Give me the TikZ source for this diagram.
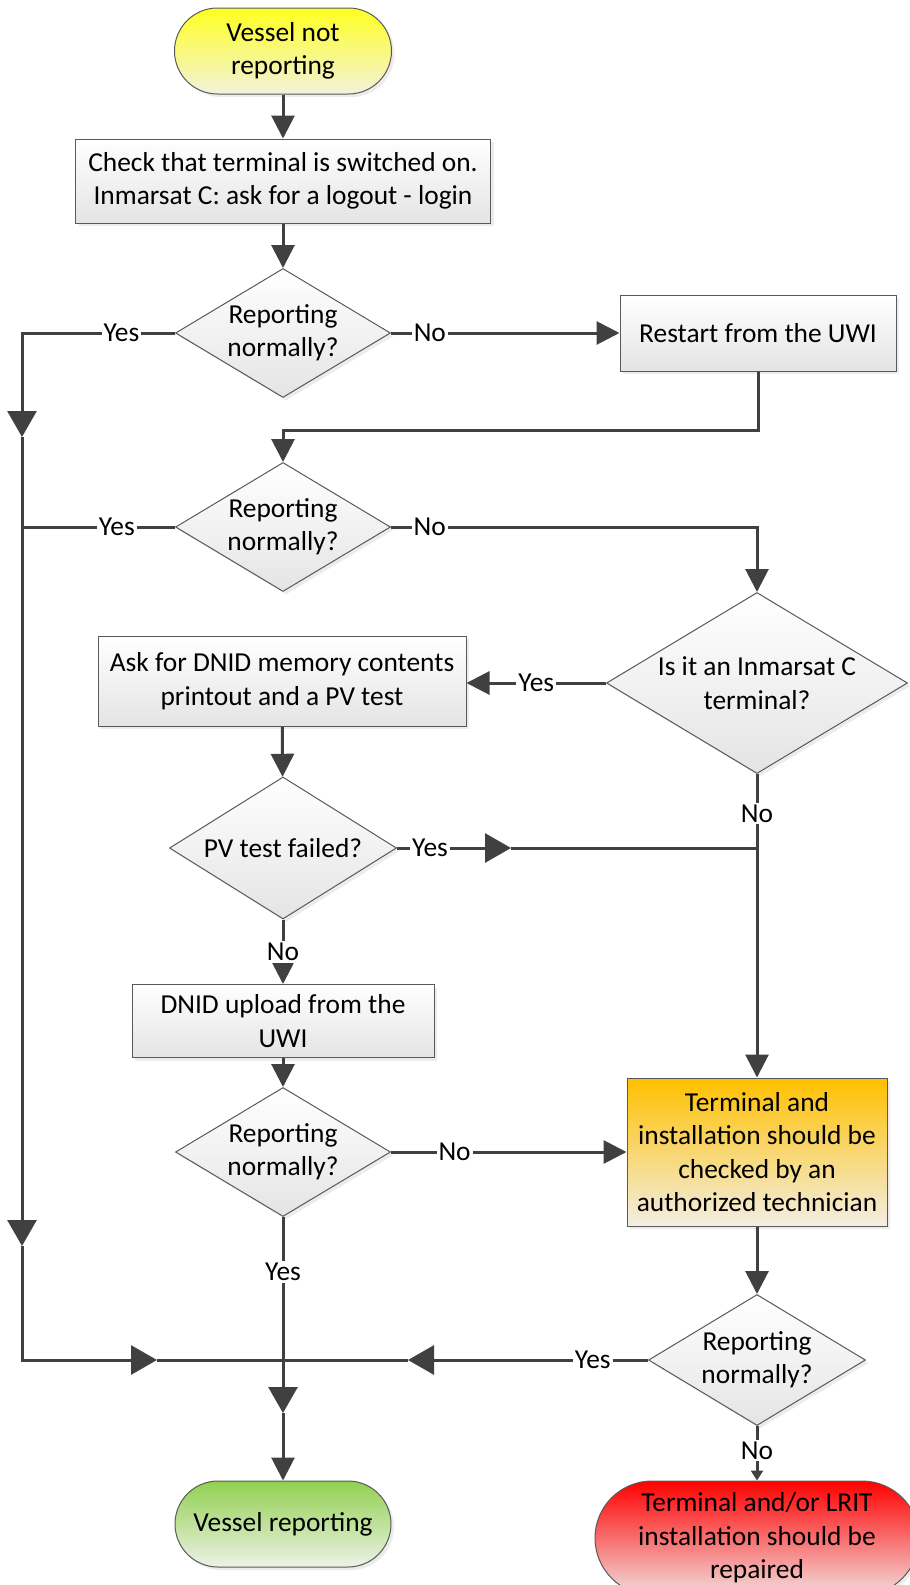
\documentclass[tikz,border=0pt]{standalone}
\usepackage{fontspec}
\setmainfont{Carlito}
\usetikzlibrary{arrows.meta,shapes.geometric,shadows}

\definecolor{linegray}{HTML}{404040}
\definecolor{edgegray}{HTML}{595959}
\definecolor{boxgray}{HTML}{E4E4E4}
\definecolor{yellowtop}{HTML}{FFFF20}
\definecolor{yellowbot}{HTML}{F2F2DC}
\definecolor{ambertop}{HTML}{FFC000}
\definecolor{amberbot}{HTML}{F2EEE4}
\definecolor{greentop}{HTML}{92D050}
\definecolor{greenbot}{HTML}{ECF2E6}
\definecolor{redtop}{HTML}{FF0000}
\definecolor{redbot}{HTML}{F2DCDC}

\begin{document}
\begin{tikzpicture}[x=0.5pt, y=-0.5pt, >={Triangle[length=11.5pt,width=11.5pt]},
	font=\fontsize{13.7}{16.7}\selectfont,
	base/.style={draw=edgegray, line width=0.5pt, align=center, inner sep=2pt,
		drop shadow={shadow xshift=1.5pt, shadow yshift=-1.5pt, fill=black!15}},
	box/.style={base, rectangle, top color=white, bottom color=boxgray},
	dec/.style={base, diamond, top color=white, bottom color=boxgray, inner sep=0pt},
	term/.style={base, rectangle, rounded corners=21.5pt},
	flow/.style={draw=linegray, line width=1.5pt},
	bigtip/.style={-{Triangle[length=13pt,width=14.5pt]}},
	lbl/.style={fill=white, inner sep=1pt, text=black}]
			\path[use as bounding box] (0,0) rectangle (910,1585);
			\clip (0,0) rectangle (910,1585);

			\node[term, top color=yellowtop, bottom color=yellowbot, minimum width=108.5pt, minimum height=43pt] (start) at (283,51) {Vessel not\\reporting};
			\node[box, minimum width=207.5pt, minimum height=42pt] (check) at (283,181) {Check that terminal is switched on.\\Inmarsat C: ask for a logout - login};
			\node[dec, aspect=1.67, minimum width=107.5pt, minimum height=64.5pt] (rep1) at (283,333) {Reporting\\normally?};
			\node[box, minimum width=138pt, minimum height=38pt] (restart) at (758,333) {Restart from the UWI};
			\node[dec, aspect=1.67, minimum width=107.5pt, minimum height=64.5pt] (rep2) at (283,527) {Reporting\\normally?};
			\node[dec, aspect=1.66, minimum width=150.5pt, minimum height=90.5pt] (inm) at (757,683) {Is it an Inmarsat C\\terminal?};
			\node[box, minimum width=184pt, minimum height=45pt] (dnid) at (282,681) {Ask for DNID memory contents\\printout and a PV test};
			\node[dec, aspect=1.6, minimum width=113.5pt, minimum height=71pt] (pv) at (283,848) {PV test failed?};
			\node[box, minimum width=151pt, minimum height=36.5pt] (upload) at (283,1021) {DNID upload from the\\UWI};
			\node[dec, aspect=1.67, minimum width=107.5pt, minimum height=64.5pt] (rep3) at (283,1152) {Reporting\\normally?};
			\node[box, top color=ambertop, bottom color=amberbot, minimum width=130pt, minimum height=74pt] (tech) at (757,1152) {Terminal and\\installation should be\\checked by an\\authorized technician};
			\node[dec, aspect=1.66, minimum width=108.5pt, minimum height=65.5pt] (rep4) at (757,1360) {Reporting\\normally?};
			\node[term, top color=greentop, bottom color=greenbot, minimum width=108pt, minimum height=43pt] (ok) at (283,1524) {Vessel reporting};
			\node[term, rounded corners=28.5pt, top color=redtop, bottom color=redbot, minimum width=162pt, minimum height=57pt] (repair) at (757,1538) {Terminal and/or LRIT\\installation should be\\repaired};

			\coordinate (bend) at (283,430);
			\coordinate (ltop) at (22,333);
			\coordinate (la) at (22,437);
			\coordinate (lb) at (22,1246);
			\coordinate (lbot) at (22,1360);
			\coordinate (ra) at (157,1360);
			\coordinate (ya) at (408,1360);
			\coordinate (va) at (283,1413);
			\coordinate (pvtip) at (511,848);

			\draw[flow, ->] (start) -- (check);
			\draw[flow, ->] (check) -- (rep1);
			\draw[flow, ->] (rep1.east) -- node[lbl, pos=0.17]{No} (rep1.east -| restart.west);
			\draw[flow, ->] (restart.south) |- (bend) -- (rep2.north);
			\draw[flow, ->] (rep2.east) -| node[lbl, pos=0.053]{No} (inm.north);
			\draw[flow, ->] (inm.west) -- node[lbl, midway]{Yes} (inm.west -| dnid.east);
			\draw[flow, ->] (dnid) -- (pv);
			\draw[flow, ->] (inm.south) -- node[lbl, pos=0.13]{No} (tech.north);
			\draw[flow, bigtip] (pv.east) -- node[lbl, pos=0.29]{Yes} (pvtip);
			\draw[flow] (pvtip) -- (pvtip -| inm.south);
			\draw[flow, ->] (pv) -- node[lbl, midway]{No} (upload);
			\draw[flow, ->] (upload) -- (rep3);
			\draw[flow, ->] (rep3.east) -- node[lbl, pos=0.27]{No} (tech.west);
			\draw[flow, ->] (tech) -- (rep4);
			\draw[flow, -{Triangle[length=5pt,width=6pt]}] (rep4.south) -- node[lbl, pos=0.45]{No} (repair.north);

			% left return line
			\draw[flow, bigtip] (rep1.west) -- node[lbl, pos=0.35]{Yes} (ltop) -- (la);
			\draw[flow] (rep2.west) -- node[lbl, pos=0.38]{Yes} (rep2.west -| ltop);
			\draw[flow, bigtip] (la) -- (lb);
			\draw[flow, bigtip] (lb) -- (lbot) -- (ra);
			\draw[flow] (ra) -- (ya);
			\draw[flow, bigtip] (rep4.west) -- node[lbl, pos=0.23]{Yes} (ya);
			\draw[flow, bigtip] (rep3.south) -- node[lbl, pos=0.28]{Yes} (va);
			\draw[flow, ->] (va) -- (ok.north);
		\end{tikzpicture}
\end{document}
